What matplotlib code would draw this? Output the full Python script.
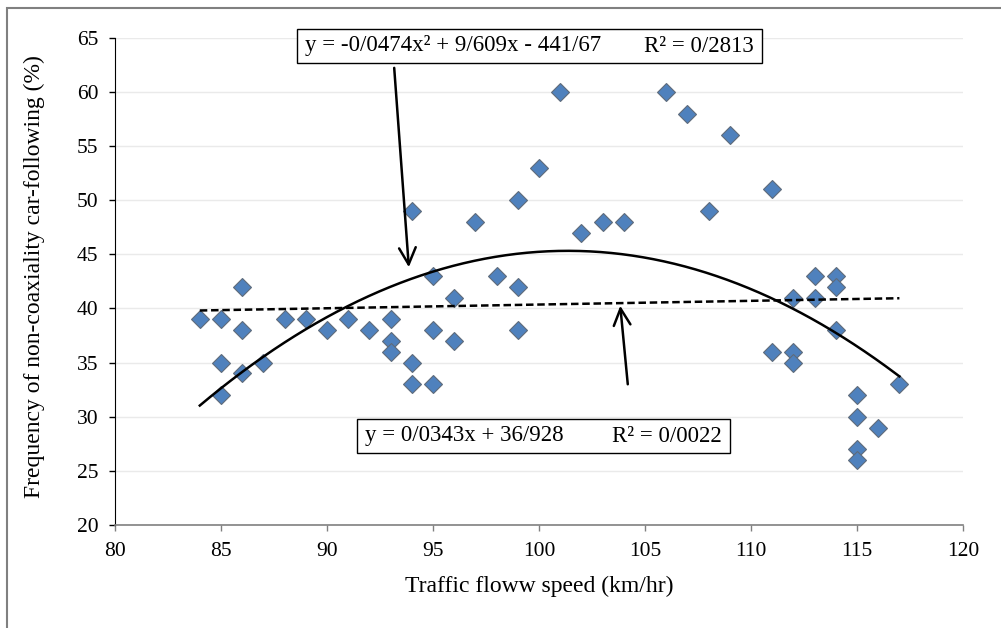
import numpy as np
import matplotlib
matplotlib.use("Agg")
import matplotlib.pyplot as plt
from matplotlib.patches import Rectangle

plt.rcParams['font.family'] = ['Liberation Serif', 'DejaVu Serif']

# speed (km/hr) and frequency of non-coaxiality (%)
speed = [84, 85, 85, 85, 86, 86, 86, 87, 88, 89, 90, 91, 92, 93, 93, 93,
         94, 94, 94, 95, 95, 95, 96, 96, 97, 98, 99, 99, 99, 100, 101, 102,
         103, 104, 106, 107, 108, 109, 111, 111, 112, 112, 112, 113, 113,
         114, 114, 114, 115, 115, 115, 115, 116, 117]
freq = [39, 39, 35, 32, 42, 38, 34, 35, 39, 39, 38, 39, 38, 39, 37, 36,
        49, 35, 33, 43, 38, 33, 41, 37, 48, 43, 50, 42, 38, 53, 60, 47,
        48, 48, 60, 58, 49, 56, 51, 36, 41, 36, 35, 43, 41,
        43, 42, 38, 32, 30, 27, 26, 29, 33]

# trendline coefficients as printed on the chart
quad_coef = [-0.0474, 9.609, -441.67]
lin_coef = [0.0343, 36.928]
quad_eq = "y = -0/0474x² + 9/609x - 441/67"
quad_r2 = "R² = 0/2813"
lin_eq = "y = 0/0343x + 36/928"
lin_r2 = "R² = 0/0022"

fig = plt.figure(figsize=(10.01, 6.28), dpi=100)
ax = fig.add_axes([115 / 1001, 1 - 525 / 628, 848 / 1001, 487.3 / 628])

xs = np.linspace(min(speed), max(speed), 200)
ax.plot(xs, np.polyval(quad_coef, xs), color='black', lw=1.8, zorder=3)
ax.plot(xs, np.polyval(lin_coef, xs), color='black', lw=1.8, ls=(0, (3, 1.5)), zorder=3)

ax.plot(speed, freq, ls='none', marker='D', markersize=9.2,
        markerfacecolor='#4F81BD', markeredgecolor='#5F6B7A', markeredgewidth=0.8, zorder=2)

ax.set_xlim(80, 120)
ax.set_ylim(20, 65)
ax.set_xticks(range(80, 121, 5))
ax.set_yticks(range(20, 66, 5))
ax.yaxis.grid(True, color='#EAEAEA', lw=1)
ax.set_axisbelow(True)
for s in ['top', 'right']:
    ax.spines[s].set_visible(False)
ax.spines['left'].set_color('black')
ax.spines['bottom'].set_color('#808080')
ax.spines['bottom'].set_linewidth(1.2)
ax.tick_params(axis='y', length=4, width=1, color='black', pad=8, labelsize=15.5)
ax.tick_params(axis='x', length=4, width=1, color='#808080', pad=8, labelsize=15.5)

ax.set_xlabel("Traffic floww speed (km/hr)", fontsize=17)
ax.xaxis.set_label_coords(0.5, -0.105)
ax.set_ylabel("Frequency of non-coaxiality car-following (%)", fontsize=17)
ax.yaxis.set_label_coords(-0.082, 0.51)

# equation boxes (figure pixel coordinates)
H = 628.0
def eq_box(x0, y0, x1, y1, eq, r2):
    fig.patches.append(Rectangle((x0 / 1001, 1 - y1 / H), (x1 - x0) / 1001, (y1 - y0) / H,
                                 transform=fig.transFigure, fill=True, facecolor='white',
                                 edgecolor='black', lw=1, zorder=5))
    yc = 1 - (y0 + y1) / 2 / H
    fig.text((x0 + 8) / 1001, yc, eq, fontsize=16.5, ha='left', va='center', zorder=6)
    fig.text((x1 - 8) / 1001, yc, r2, fontsize=16.5, ha='right', va='center', zorder=6)

eq_box(297, 29, 762, 63, quad_eq, quad_r2)
eq_box(357, 419, 730, 453, lin_eq, lin_r2)

ax.annotate("", xy=(93.87, 43.55), xytext=(93.16, 62.47),
            arrowprops=dict(arrowstyle='->', lw=1.8, color='black', mutation_scale=30))
ax.annotate("", xy=(103.82, 40.5), xytext=(104.2, 32.74),
            arrowprops=dict(arrowstyle='->', lw=1.8, color='black', mutation_scale=30))

# chart area border
fig.patches.append(Rectangle((7 / 1001, -0.1), 1.2, 1 - 8 / H + 0.1, transform=fig.transFigure,
                             fill=False, edgecolor='#808080', lw=1.5))

fig.savefig("out.png", dpi=100)
